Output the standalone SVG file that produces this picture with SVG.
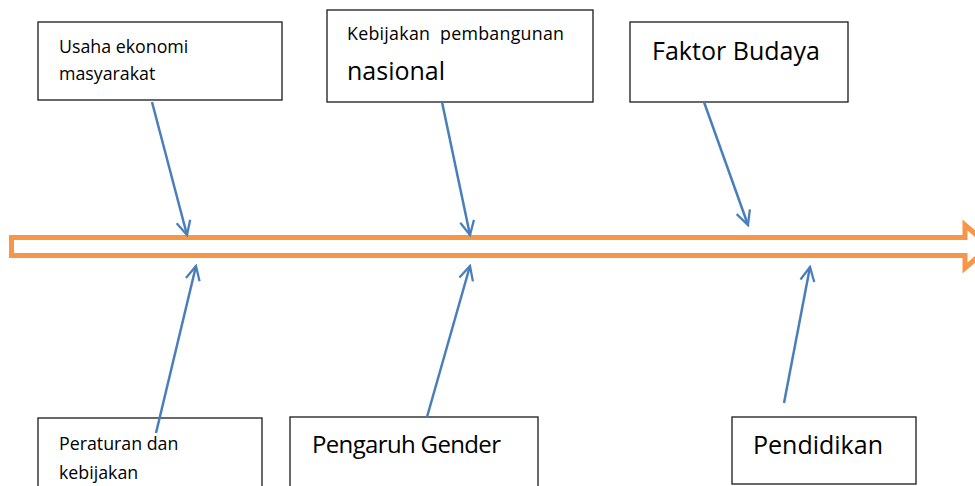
<svg xmlns="http://www.w3.org/2000/svg" width="975" height="486" viewBox="0 0 975 486">
<style>
.box{fill:#fff;stroke:#1a1a1a;stroke-width:1.3}
.t{font-family:"Open Sans","Liberation Sans",sans-serif;fill:#000}
.s{font-size:17.8px}
.l{font-size:25px}
.c{fill:none;stroke:#4A7EBB;stroke-width:2.5;marker-end:url(#ah)}
</style>
<defs>
<marker id="ah" viewBox="0 0 20 20" refX="18" refY="10" markerWidth="7" markerHeight="7" markerUnits="strokeWidth" orient="auto">
<path d="M2,2 L18,10 L2,18" fill="none" stroke="#4A7EBB" stroke-width="2.6" stroke-linejoin="miter"/>
</marker>
</defs>
<rect width="975" height="486" fill="#fff"/>
<g id="spine">
<polygon points="11.5,237.5 965,237.5 965,225 990,246.5 965,268 965,255.5 11.5,255.5" fill="#fff" stroke="#F79646" stroke-width="5"/>
</g>
<g id="n1"><rect class="box" x="38" y="22" width="244" height="78"/>
<text class="t s" x="59" y="53">Usaha ekonomi</text><text class="t s" x="59" y="80">masyarakat</text></g>
<g id="n2"><rect class="box" x="327" y="10" width="266" height="92"/>
<text class="t s" x="347" y="40" xml:space="preserve" textLength="217">Kebijakan  pembangunan</text><text class="t l" x="347" y="80">nasional</text></g>
<g id="n3"><rect class="box" x="630" y="22" width="218" height="80"/>
<text class="t l" x="652" y="60" textLength="168">Faktor Budaya</text></g>
<g id="n4"><rect class="box" x="38" y="418" width="224" height="80"/>
<text class="t s" x="59" y="450">Peraturan dan</text><text class="t s" x="59" y="479">kebijakan</text></g>
<g id="n5"><rect class="box" x="290" y="417" width="248" height="80"/>
<text class="t l" x="312" y="453" style="font-size:24px" textLength="189">Pengaruh Gender</text></g>
<g id="n6"><rect class="box" x="732" y="417" width="184" height="67"/>
<text class="t l" x="753" y="454" textLength="130">Pendidikan</text></g>
<g id="connectors">
<line class="c" x1="152" y1="102" x2="187" y2="235"/>
<line class="c" x1="442" y1="102" x2="470" y2="235"/>
<line class="c" x1="704" y1="102" x2="748" y2="225"/>
<line class="c" x1="156" y1="433" x2="196" y2="266"/>
<line class="c" x1="427" y1="417" x2="470" y2="266"/>
<line class="c" x1="784" y1="403" x2="810" y2="267"/>
</g>
</svg>
